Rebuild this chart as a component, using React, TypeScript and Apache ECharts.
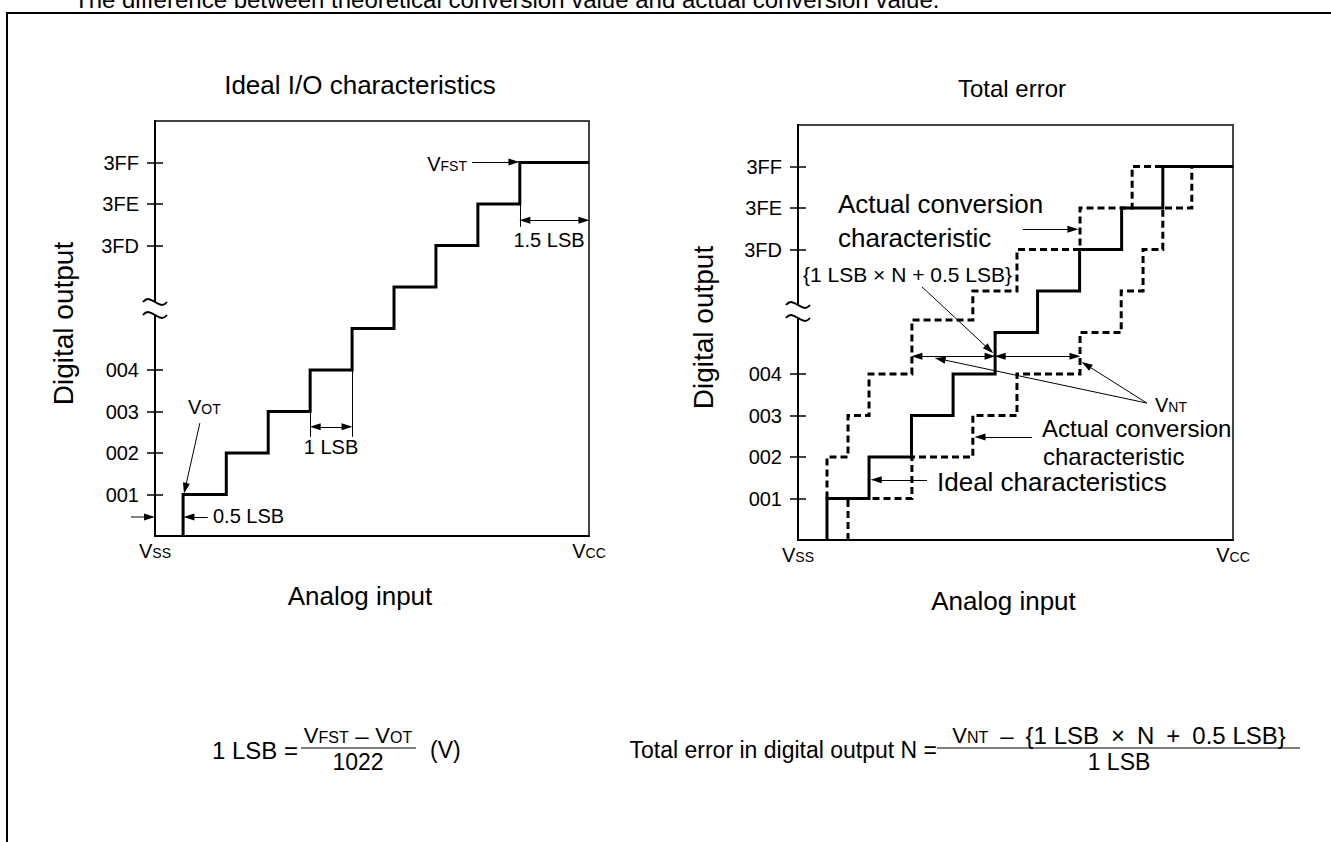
import React, { useEffect, useRef } from 'react';
import * as echarts from 'echarts';

const FONT = '"Liberation Sans", Arial, Helvetica, sans-serif';

// Visual rows of the digital output axis (axis is broken between 004 and 3FD)
const yTickValues = [1, 2, 3, 4, 7, 8, 9];
const yTickLabels = ['001', '002', '003', '004', '3FD', '3FE', '3FF'];
const X_MAX = 10.35; // analog input span in LSB
const xEdgeSubscripts = ['SS', 'CC'];

// Ideal I/O characteristics (left): transition points (LSB) and output levels
const idealLeftSteps = [0.67, 1.7, 2.7, 3.7, 4.7, 5.7, 6.7, 7.7, 8.7];
const idealLevels = [0, 1, 2, 3, 4, 5, 6, 7, 8, 9];

// Total error (right)
const idealRightSteps = [0.69, 1.69, 2.7, 3.69, 4.69, 5.7, 6.7, 7.7, 8.68];
const actualUpperSteps = [0.69, 1.19, 1.69, 2.71, 4.16, 5.21, 6.71, 7.95];
const actualUpperLevels = [1, 2, 3, 4, 5.3, 6, 7, 8, 9];
const actualUpperEnd = 8.68;
const actualLowerSteps = [1.19, 2.71, 4.16, 5.21, 6.71, 7.69, 8.21, 8.68, 9.37];
const actualLowerLevels = [0, 1, 2, 3, 4, 5, 6, 7, 8, 9];

function stairs(steps: number[], levels: number[], end?: number) {
  const pts: number[][] = [];
  steps.forEach((x, i) => {
    pts.push([x, levels[i]]);
    pts.push([x, levels[i + 1]]);
  });
  if (end != null) pts.push([end, levels[levels.length - 1]]);
  return pts;
}

const arrow = (a: number[], b: number[], head: 'end' | 'both' | 'none') => [
  { coord: a, symbol: head === 'both' ? 'triangle' : 'none' },
  { coord: b, symbol: head === 'none' ? 'none' : 'triangle' },
];

const axisRich = {
  v: { fontSize: 20, fontFamily: FONT, color: '#000', verticalAlign: 'middle' },
  s: { fontSize: 14, fontFamily: FONT, color: '#000', verticalAlign: 'middle', padding: [4, 0, 0, 0] },
};
const gRich = {
  v: { fontSize: 20, fontFamily: FONT, fill: '#000', verticalAlign: 'middle' },
  s: { fontSize: 14, fontFamily: FONT, fill: '#000', verticalAlign: 'middle', padding: [4, 0, 0, 0] },
};
const fRich = {
  v: { fontSize: 22, fontFamily: FONT, fill: '#000', verticalAlign: 'middle' },
  s: { fontSize: 16, fontFamily: FONT, fill: '#000', verticalAlign: 'middle', padding: [4, 0, 0, 0] },
  n: { fontSize: 24, fontFamily: FONT, fill: '#000', verticalAlign: 'middle' },
};

const T = (text: string, x: number, y: number, fontSize: number, align = 'left', rich?: any) => ({
  type: 'text',
  x,
  y,
  z: 50,
  silent: true,
  style: { text, fontSize, fontFamily: FONT, fill: '#000', align, verticalAlign: 'middle', rich },
});

const breakMark = (cx: number, y1: number, y2: number) => [
  { type: 'rect', z: 60, silent: true, shape: { x: cx - 5, y: y1, width: 10, height: y2 - y1 }, style: { fill: '#fff' } },
  ...[y1, y2].map((y) => ({
    type: 'bezierCurve',
    z: 61,
    silent: true,
    shape: { x1: cx - 12, y1: y, cpx1: cx - 4, cpy1: y - 10, cpx2: cx + 4, cpy2: y + 10, x2: cx + 12, y2: y },
    style: { stroke: '#000', lineWidth: 2, fill: null },
  })),
];

function xAxis(gridIndex: number, nameGap: number) {
  return {
    type: 'value',
    gridIndex,
    min: 0,
    max: X_MAX,
    interval: X_MAX,
    axisLine: { show: true, onZero: false, lineStyle: { color: '#000', width: 2 } },
    axisTick: { show: false },
    splitLine: { show: false },
    axisLabel: {
      margin: 5,
      formatter: (v: number) => `{v|V}{s|${xEdgeSubscripts[Math.abs(v) < 0.01 ? 0 : 1]}}`,
      rich: axisRich,
    },
    name: 'Analog input',
    nameLocation: 'middle',
    nameGap,
    nameTextStyle: { fontSize: 26, fontFamily: FONT, color: '#000', padding: [0, 24, 0, 0] },
  };
}

function yAxes(gridIndex: number, nameGap: number) {
  const tickStyle = { color: '#000', width: 1.5 };
  return [
    {
      type: 'value',
      gridIndex,
      position: 'left',
      min: 0,
      max: 10,
      interval: 1,
      axisLine: { show: true, onZero: false, lineStyle: { color: '#000', width: 2 } },
      axisTick: { show: true, customValues: yTickValues, length: 8, lineStyle: tickStyle },
      axisLabel: {
        customValues: yTickValues,
        margin: 16,
        fontSize: 20,
        fontFamily: FONT,
        color: '#000',
        formatter: (v: number) => {
          const i = yTickValues.indexOf(Math.round(v));
          return i >= 0 ? yTickLabels[i] : '';
        },
      },
      splitLine: { show: false },
      name: 'Digital output',
      nameLocation: 'middle',
      nameGap,
      nameTextStyle: { fontSize: 28, fontFamily: FONT, color: '#000', padding: [0, 0, 0, 10] },
    },
    {
      type: 'value',
      gridIndex,
      position: 'left',
      min: 0,
      max: 10,
      interval: 1,
      axisLine: { show: false },
      axisTick: { show: true, inside: true, customValues: yTickValues, length: 8, lineStyle: tickStyle },
      axisLabel: { show: false },
      splitLine: { show: false },
    },
  ];
}

const markLineBase = {
  silent: true,
  symbolSize: [7, 11],
  lineStyle: { color: '#000', width: 1, type: 'solid' },
  label: { show: false },
  emphasis: { disabled: true },
};

function buildOption() {
  const solid = { color: '#000', width: 3, join: 'miter', cap: 'butt' };
  const dashed = { color: '#000', width: 3, type: [7, 4], join: 'miter', cap: 'butt' };
  return {
    animation: false,
    backgroundColor: '#fff',
    grid: [
      { left: 155, top: 121, width: 434, height: 415, show: true, borderColor: '#444', borderWidth: 2 },
      { left: 798, top: 125, width: 435, height: 415, show: true, borderColor: '#444', borderWidth: 2 },
    ],
    xAxis: [xAxis(0, 47), xAxis(1, 48)],
    yAxis: [...yAxes(0, 78), ...yAxes(1, 81)],
    series: [
      {
        type: 'line',
        xAxisIndex: 0,
        yAxisIndex: 0,
        data: stairs(idealLeftSteps, idealLevels, X_MAX),
        symbol: 'none',
        silent: true,
        lineStyle: solid,
        z: 5,
        markLine: {
          ...markLineBase,
          data: [
            arrow([7.56, 9.01], [8.56, 9.01], 'end'),
            arrow([8.82, 7.61], [10.23, 7.61], 'both'),
            arrow([8.7, 8], [8.7, 7.45], 'none'),
            arrow([3.82, 2.63], [4.58, 2.63], 'both'),
            arrow([3.7, 3], [3.7, 2.39], 'none'),
            arrow([4.7, 4], [4.7, 2.39], 'none'),
            arrow([1.07, 2.72], [0.72, 1.15], 'end'),
            arrow([1.26, 0.46], [0.81, 0.46], 'end'),
          ],
        },
      },
      {
        type: 'line',
        xAxisIndex: 1,
        yAxisIndex: 2,
        data: stairs(actualUpperSteps, actualUpperLevels, actualUpperEnd),
        symbol: 'none',
        silent: true,
        lineStyle: dashed,
        z: 3,
      },
      {
        type: 'line',
        xAxisIndex: 1,
        yAxisIndex: 2,
        data: stairs(actualLowerSteps, actualLowerLevels),
        symbol: 'none',
        silent: true,
        lineStyle: dashed,
        z: 3,
      },
      {
        type: 'line',
        xAxisIndex: 1,
        yAxisIndex: 2,
        data: stairs(idealRightSteps, idealLevels, X_MAX),
        symbol: 'none',
        silent: true,
        lineStyle: solid,
        z: 5,
        markLine: {
          ...markLineBase,
          data: [
            arrow([5.35, 7.49], [6.54, 7.49], 'end'),
            arrow([2.95, 6.1], [4.55, 4.59], 'end'),
            arrow([2.83, 4.43], [4.57, 4.43], 'both'),
            arrow([4.81, 4.43], [6.59, 4.43], 'both'),
            arrow([8.3, 3.3], [3.38, 4.36], 'end'),
            arrow([8.3, 3.3], [6.86, 4.22], 'end'),
            arrow([5.57, 2.48], [4.33, 2.48], 'end'),
            arrow([3.07, 1.45], [1.86, 1.45], 'end'),
          ],
        },
      },
    ],
    graphic: [
      {
        type: 'rect',
        z: 40,
        silent: true,
        shape: { x: 7, y: 13, width: 1500, height: 1000 },
        style: { fill: null, stroke: '#000', lineWidth: 2 },
      },
      T('The difference between theoretical conversion value and actual conversion value.', 74, -1, 24),
      T('Ideal I/O characteristics', 360, 85, 26, 'center'),
      T('Total error', 1012, 88, 24, 'center'),
      ...breakMark(155, 302, 315),
      ...breakMark(798, 305, 318),
      // left annotations
      T('{v|V}{s|FST}', 467, 164, 20, 'right', gRich),
      T('1.5 LSB', 549, 240, 20, 'center'),
      T('1 LSB', 331, 447, 20, 'center'),
      T('{v|V}{s|OT}', 188, 407, 20, 'left', gRich),
      T('0.5 LSB', 213, 516, 20, 'left'),
      {
        type: 'line',
        z: 50,
        silent: true,
        shape: { x1: 131, y1: 517, x2: 146, y2: 517 },
        style: { stroke: '#000', lineWidth: 1 },
      },
      {
        type: 'polygon',
        z: 50,
        silent: true,
        shape: { points: [[155, 517], [144, 513.5], [144, 520.5]] },
        style: { fill: '#000' },
      },
      // right annotations
      T('Actual conversion', 838, 204, 26),
      T('characteristic', 838, 238, 26),
      T('{1 LSB × N + 0.5 LSB}', 803, 274, 21),
      T('{v|V}{s|NT}', 1155, 405, 20, 'left', gRich),
      T('Actual conversion', 1042, 428, 24),
      T('characteristic', 1043, 456, 24),
      T('Ideal characteristics', 937, 482, 26),
      // formulas
      T('1 LSB =', 298, 750, 24, 'right'),
      T('{v|V}{s|FST}{n| – }{v|V}{s|OT}', 358, 735, 24, 'center', fRich),
      { type: 'line', z: 50, silent: true, shape: { x1: 301, y1: 748, x2: 416, y2: 748 }, style: { stroke: '#000', lineWidth: 1 } },
      T('1022', 358, 762, 23, 'center'),
      T('(V)', 430, 750, 23),
      T('Total error in digital output N =', 937, 750, 23, 'right'),
      T('{v|V}{s|NT}{n|\u2002–\u2002}{1 LSB\u2002×\u2002N\u2002+\u20020.5 LSB}', 1119, 735, 24, 'center', fRich),
      { type: 'line', z: 50, silent: true, shape: { x1: 937, y1: 748, x2: 1300, y2: 748 }, style: { stroke: '#000', lineWidth: 1 } },
      T('1 LSB', 1119, 762, 23, 'center'),
    ],
  };
}

export default function App() {
  const ref = useRef<HTMLDivElement>(null);
  useEffect(() => {
    const chart = echarts.init(ref.current!, null, { renderer: 'svg' });
    chart.setOption(buildOption() as any);
    return () => chart.dispose();
  }, []);
  return (
    <div
      ref={ref}
      style={{ position: 'absolute', left: 0, top: 0, width: 1331, height: 842, background: '#fff' }}
    />
  );
}
